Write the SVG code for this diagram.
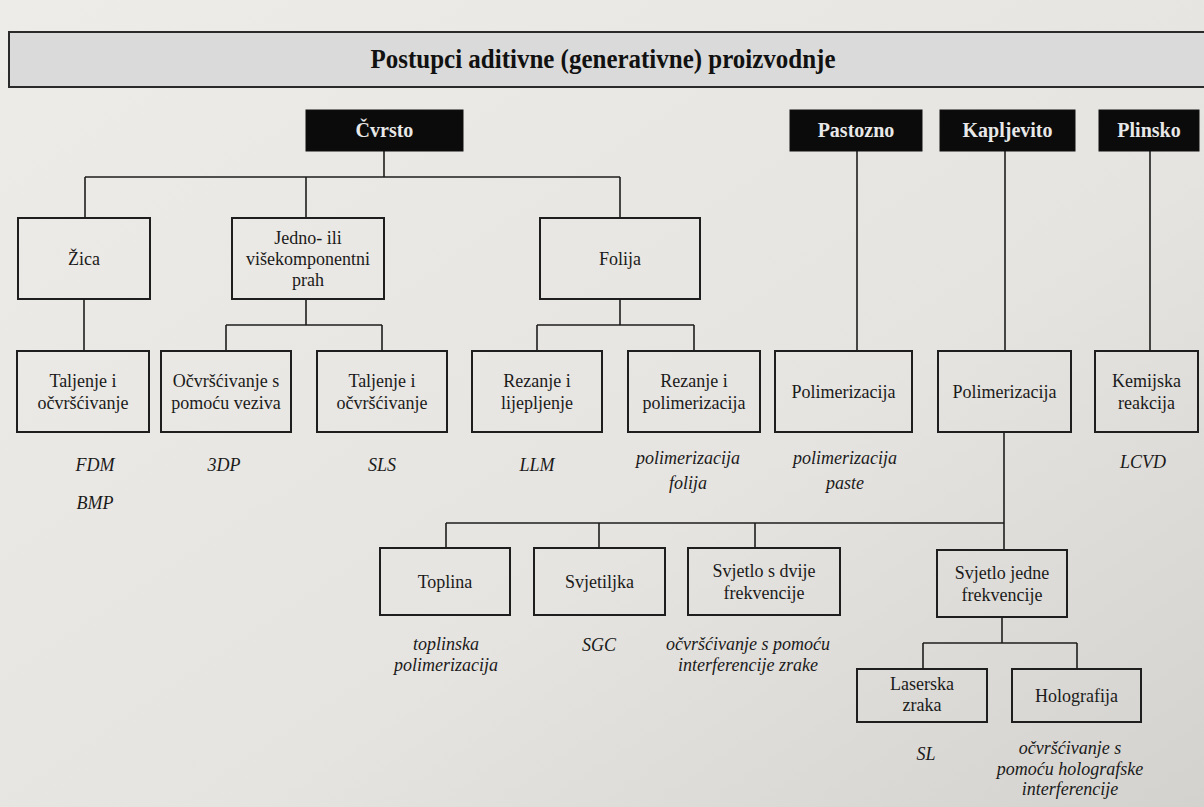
<svg xmlns="http://www.w3.org/2000/svg" width="1204" height="807" viewBox="0 0 1204 807" font-family="Liberation Serif, Times New Roman, serif">
<defs>
<linearGradient id="paper" x1="0" y1="0" x2="1" y2="1">
<stop offset="0" stop-color="#eeece8"/>
<stop offset="0.6" stop-color="#e6e4e0"/>
<stop offset="1" stop-color="#d4d2ce"/>
</linearGradient>
<style>
.box{fill:none;stroke:#1e1e1e;stroke-width:2}
.dark{fill:#0b0b0b;stroke:#111;stroke-width:1}
.t{font-size:18px;fill:#1a1a1a;text-anchor:middle}
.h{font-size:20px;font-weight:bold;fill:#e8e8e8;text-anchor:middle}
.i{font-size:18px;font-style:italic;fill:#1a1a1a;text-anchor:middle}
.c{fill:none;stroke:#1e1e1e;stroke-width:1.6}
</style>
</defs>
<rect x="0" y="0" width="1204" height="807" fill="url(#paper)"/>

<g id="title">
<rect x="9" y="32" width="1200" height="55" fill="#dadada" stroke="#2a2a2a" stroke-width="2"/>
<text x="603" y="68" font-size="27" font-weight="bold" fill="#111" text-anchor="middle" textLength="465" lengthAdjust="spacingAndGlyphs">Postupci aditivne (generativne) proizvodnje</text>
</g>

<g id="connectors">
<path class="c" d="M384 151V177M85 177H620M85 177V218M306 177V218M620 177V218"/>
<path class="c" d="M84 299V351"/>
<path class="c" d="M306 299V325M226 325H382M226 325V351M382 325V351"/>
<path class="c" d="M620 299V325M537 325H694M537 325V351M694 325V351"/>
<path class="c" d="M857 151V351M1005 151V351M1150 151V351"/>
<path class="c" d="M1004 431V550M446 523H1004M446 523V548M599 523V548M755 523V548"/>
<path class="c" d="M1002 617V643M923 643H1077M923 643V669M1077 643V669"/>
</g>

<g id="cvrsto"><rect class="dark" x="306" y="110" width="157" height="41"/><text class="h" x="384.5" y="137">Čvrsto</text></g>
<g id="pastozno"><rect class="dark" x="790" y="110" width="132" height="41"/><text class="h" x="856" y="137">Pastozno</text></g>
<g id="kapljevito"><rect class="dark" x="940" y="110" width="135" height="41"/><text class="h" x="1007.5" y="137">Kapljevito</text></g>
<g id="plinsko"><rect class="dark" x="1099" y="110" width="100" height="41"/><text class="h" x="1149" y="137">Plinsko</text></g>

<g id="zica"><rect class="box" x="18" y="218" width="132" height="81"/><text class="t" x="84" y="265">Žica</text></g>
<g id="prah"><rect class="box" x="232" y="218" width="152" height="81"/><text class="t" x="308" y="244">Jedno- ili</text><text class="t" x="308" y="265">višekomponentni</text><text class="t" x="308" y="286">prah</text></g>
<g id="folija"><rect class="box" x="540" y="218" width="160" height="81"/><text class="t" x="620" y="265">Folija</text></g>

<g id="taljenje1"><rect class="box" x="17" y="351" width="132" height="81"/><text class="t" x="83" y="387">Taljenje i</text><text class="t" x="83" y="409">očvršćivanje</text></g>
<g id="vezivo"><rect class="box" x="161" y="351" width="130" height="81"/><text class="t" x="226" y="387">Očvršćivanje s</text><text class="t" x="226" y="409">pomoću veziva</text></g>
<g id="taljenje2"><rect class="box" x="317" y="351" width="130" height="81"/><text class="t" x="382" y="387">Taljenje i</text><text class="t" x="382" y="409">očvršćivanje</text></g>
<g id="rezanje1"><rect class="box" x="472" y="351" width="130" height="81"/><text class="t" x="537" y="387">Rezanje i</text><text class="t" x="537" y="409">lijepljenje</text></g>
<g id="rezanje2"><rect class="box" x="628" y="351" width="132" height="81"/><text class="t" x="694" y="387">Rezanje i</text><text class="t" x="694" y="409">polimerizacija</text></g>
<g id="polim1"><rect class="box" x="775" y="351" width="137" height="81"/><text class="t" x="843.5" y="398">Polimerizacija</text></g>
<g id="polim2"><rect class="box" x="938" y="351" width="133" height="81"/><text class="t" x="1004.5" y="398">Polimerizacija</text></g>
<g id="kemijska"><rect class="box" x="1095" y="351" width="103" height="81"/><text class="t" x="1146.5" y="387">Kemijska</text><text class="t" x="1146.5" y="409">reakcija</text></g>

<g id="toplina"><rect class="box" x="380" y="548" width="130" height="67"/><text class="t" x="445" y="588">Toplina</text></g>
<g id="svjetiljka"><rect class="box" x="534" y="548" width="131" height="67"/><text class="t" x="599.5" y="588">Svjetiljka</text></g>
<g id="dvije"><rect class="box" x="688" y="548" width="152" height="67"/><text class="t" x="764" y="577">Svjetlo s dvije</text><text class="t" x="764" y="599">frekvencije</text></g>
<g id="jedne"><rect class="box" x="937" y="550" width="130" height="67"/><text class="t" x="1002" y="579">Svjetlo jedne</text><text class="t" x="1002" y="601">frekvencije</text></g>
<g id="laserska"><rect class="box" x="857" y="669" width="130" height="53"/><text class="t" x="922" y="690">Laserska</text><text class="t" x="922" y="711">zraka</text></g>
<g id="holografija"><rect class="box" x="1012" y="669" width="129" height="53"/><text class="t" x="1076.5" y="702">Holografija</text></g>

<g id="labels">
<text class="i" x="95" y="471">FDM</text>
<text class="i" x="95" y="509">BMP</text>
<text class="i" x="224" y="471">3DP</text>
<text class="i" x="382" y="471">SLS</text>
<text class="i" x="537" y="471">LLM</text>
<text class="i" x="688" y="464">polimerizacija</text>
<text class="i" x="688" y="489">folija</text>
<text class="i" x="845" y="464">polimerizacija</text>
<text class="i" x="845" y="489">paste</text>
<text class="i" x="1143" y="468">LCVD</text>
<text class="i" x="446" y="650">toplinska</text>
<text class="i" x="446" y="671">polimerizacija</text>
<text class="i" x="599" y="651">SGC</text>
<text class="i" x="748" y="650">očvršćivanje s pomoću</text>
<text class="i" x="748" y="671">interferencije zrake</text>
<text class="i" x="926" y="760">SL</text>
<text class="i" x="1070" y="754">očvršćivanje s</text>
<text class="i" x="1070" y="775">pomoću holografske</text>
<text class="i" x="1070" y="795">interferencije</text>
</g>
</svg>
